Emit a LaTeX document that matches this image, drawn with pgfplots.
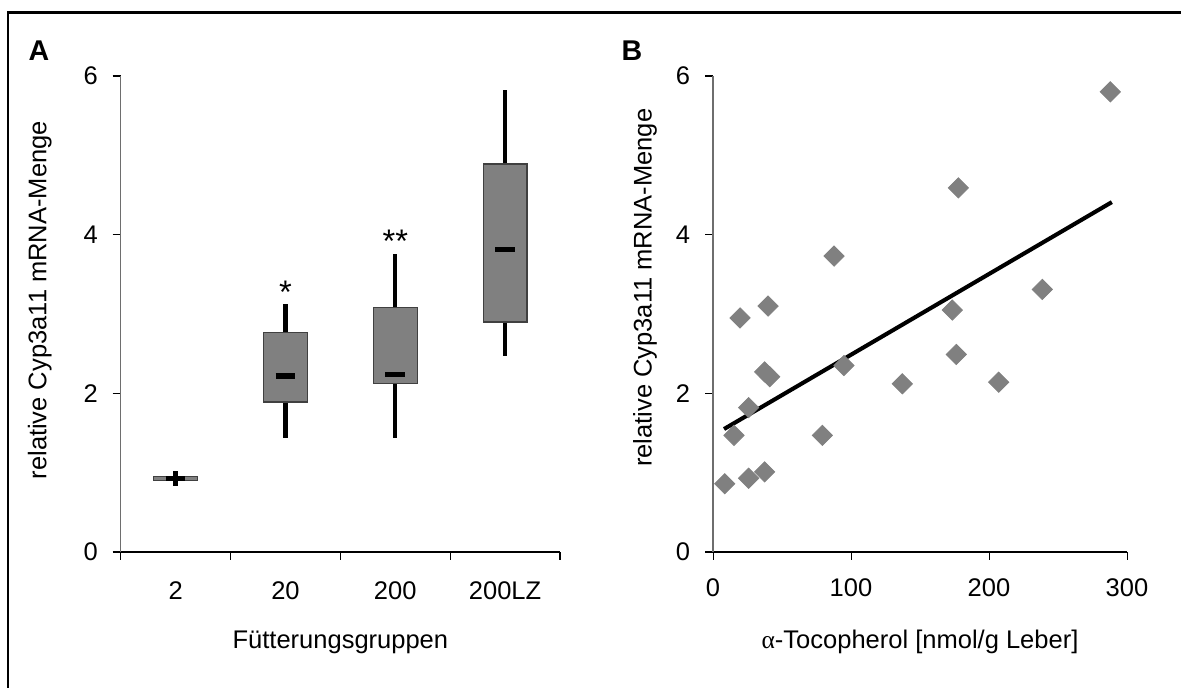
\documentclass[border=0pt]{standalone}
\usepackage{pgfplots}
\pgfplotsset{compat=1.18}
\usepgfplotslibrary{statistics}
\usepackage{fontspec}
\setmainfont{Liberation Sans}
\newfontfamily\greekfont{Liberation Serif}
\definecolor{boxgray}{HTML}{808080}
\definecolor{axgray}{HTML}{6E6E6E}
\begin{document}
\fontsize{12.5pt}{14pt}\selectfont
\begin{tikzpicture}
\path[use as bounding box] (0pt,0pt) rectangle ({1181*0.49pt},{688*0.49pt});
% frame (only top and left visible)
\draw[line width=1pt] ({8*0.49pt},0pt) -- ({8*0.49pt},{675.5*0.49pt}) -- ({1181*0.49pt},{675.5*0.49pt});
\node[font=\fontsize{14pt}{16pt}\selectfont\bfseries] at ({39*0.49pt},{637*0.49pt}) {A};
\node[font=\fontsize{14pt}{16pt}\selectfont\bfseries] at ({632*0.49pt},{637*0.49pt}) {B};

\pgfplotsset{
  myaxis/.style={
    scale only axis,
    axis lines=left,
    axis line style={-},
    x axis line style={black, line width=0.6pt},
    y axis line style={axgray, line width=0.6pt},
    tick align=outside,
    major tick length=3.9pt,
    tick style={black, line width=0.5pt},
    ymin=0, ymax=6, ytick={0,2,4,6},
    height=233.24pt,
    /pgf/number format/assume math mode=true,
    ticklabel style={font=\fontsize{12.5pt}{14pt}\selectfont},
    yticklabel style={xshift=-3pt},
    xticklabel style={yshift=-5pt},
    label style={font=\fontsize{12.5pt}{14pt}\selectfont},
    clip=false,
  }
}

\begin{axis}[myaxis,
  at={({120.7*0.49pt},{136*0.49pt})}, anchor=origin,
  width=215.26pt,
  xmin=0.5, xmax=4.5,
  xtick={0.5,1.5,2.5,3.5,4.5}, xticklabels={},
  extra x ticks={1,2,3,4},
  extra x tick labels={2,20,200,200LZ},
  extra x tick style={major tick length=0pt, xticklabel style={yshift=-5pt}},
  xlabel={Fütterungsgruppen},
  xlabel style={at={(axis description cs:0.5,0)}, anchor=base, yshift=-47.5pt},
  ylabel={relative Cyp3a11 mRNA-Menge},
  ylabel style={at={([xshift=-39.7pt]axis description cs:0,0.529)}, anchor=center},
  boxplot/draw direction=y,
  boxplot/box extend=0.4,
  boxplot/whisker extend=0,
  boxplot/every box/.style={fill=boxgray, draw=black!75, line width=0.6pt},
  boxplot/every whisker/.style={black, line width=2.1pt},
  boxplot/draw/median/.code={%
    \draw[line width=2.6pt, black]
      (boxplot box cs:\pgfplotsboxplotvalue{median},0.275) --
      (boxplot box cs:\pgfplotsboxplotvalue{median},0.725);
  },
]
\addplot+[mark=none, boxplot prepared={draw position=1,
  lower whisker=0.83, lower quartile=0.90, median=0.93,
  upper quartile=0.955, upper whisker=1.02}] coordinates {};
\addplot+[mark=none, boxplot prepared={draw position=2,
  lower whisker=1.44, lower quartile=1.89, median=2.22,
  upper quartile=2.77, upper whisker=3.12}] coordinates {};
\addplot+[mark=none, boxplot prepared={draw position=3,
  lower whisker=1.44, lower quartile=2.12, median=2.24,
  upper quartile=3.08, upper whisker=3.75}] coordinates {};
\addplot+[mark=none, boxplot prepared={draw position=4,
  lower whisker=2.47, lower quartile=2.90, median=3.81,
  upper quartile=4.89, upper whisker=5.82}] coordinates {};
\node[anchor=base, font=\fontsize{16pt}{18pt}\selectfont] at (axis cs:2,3.13) {*};
\node[anchor=base, font=\fontsize{16pt}{18pt}\selectfont] at (axis cs:3,3.78) {**};
\end{axis}

\begin{axis}[myaxis,
  at={({713*0.49pt},{136*0.49pt})}, anchor=origin,
  width=202.86pt,
  xmin=0, xmax=300, xtick={0,100,200,300},
  xlabel={{\greekfont α}-Tocopherol [nmol/g Leber]},
  xlabel style={at={(axis description cs:0.5,0)}, anchor=base, yshift=-47.5pt},
  ylabel={relative Cyp3a11 mRNA-Menge},
  ylabel style={at={([xshift=-33.3pt]axis description cs:0,0.555)}, anchor=center},
]
\addplot[only marks, mark=square*, mark size=3.5pt,
  mark options={rotate=45, fill=boxgray, draw=boxgray}] coordinates {
(8.5,0.86) (15.2,1.47) (19.6,2.95) (25.8,1.82) (25.8,0.93)
(37.4,1.01) (37.4,2.27) (41.1,2.21) (39.9,3.10) (79.2,1.47)
(87.7,3.73) (94.9,2.35) (137.2,2.12) (173.4,3.05) (176.3,2.49)
(177.8,4.59) (207.0,2.14) (238.6,3.31) (287.9,5.80)
};
\addplot[black, line width=2pt, mark=none] coordinates {(8,1.55) (289,4.41)};
\end{axis}
\end{tikzpicture}
\end{document}
